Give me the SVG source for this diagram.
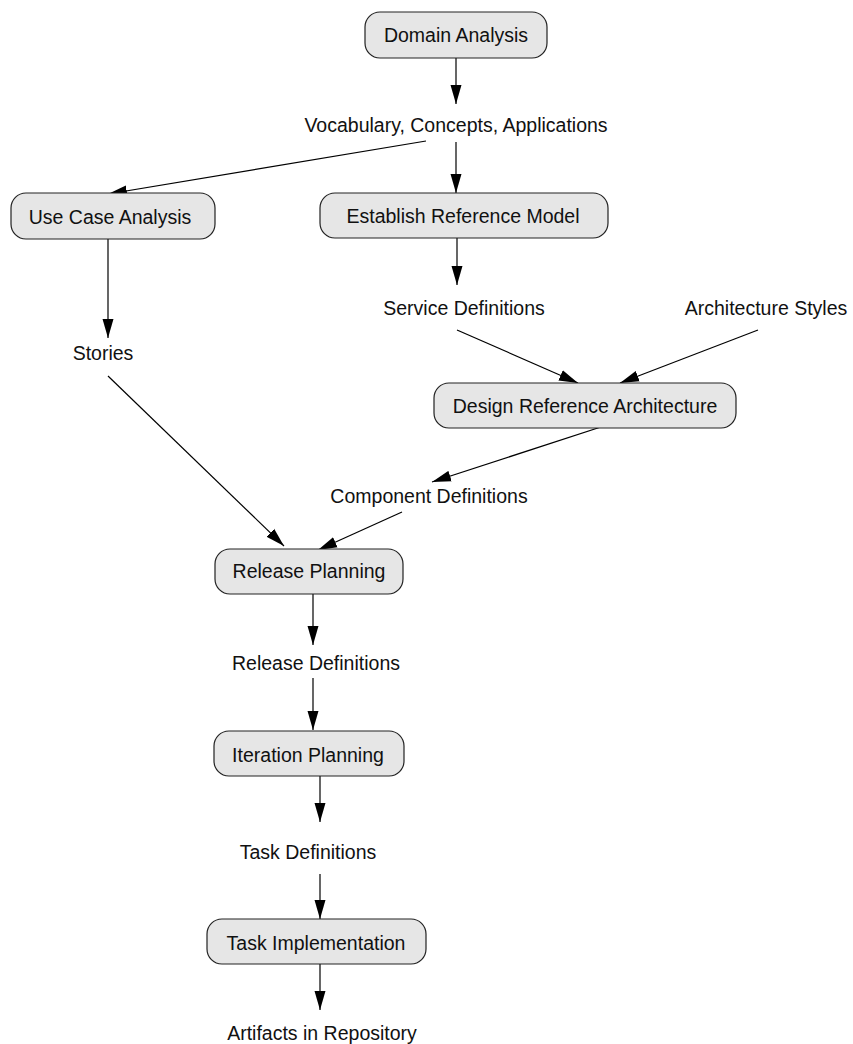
<svg xmlns="http://www.w3.org/2000/svg" width="853" height="1044" viewBox="0 0 853 1044">
  <style>
    .box { fill: #e6e6e6; stroke: #222; stroke-width: 1.2; }
    text { font-family: "Liberation Sans", Arial, sans-serif; font-size: 19.5px; fill: #111; text-anchor: middle; }
    .edge { stroke: #000; stroke-width: 1.2; fill: none; marker-end: url(#arrow); }
  </style>
  <defs>
    <marker id="arrow" markerUnits="userSpaceOnUse" markerWidth="20" markerHeight="12" refX="19" refY="6" orient="auto">
      <path d="M0,0.5 L19,6 L0,11.5 z" fill="#000"/>
    </marker>
  </defs>
  <rect width="853" height="1044" fill="#fff"/>

  <!-- connectors -->
  <g id="edges">
    <line class="edge" x1="456" y1="58" x2="456" y2="104"/>
    <line class="edge" x1="426" y1="141" x2="108" y2="194"/>
    <line class="edge" x1="456" y1="142" x2="456" y2="193"/>
    <line class="edge" x1="108" y1="239" x2="108" y2="338"/>
    <line class="edge" x1="457" y1="238" x2="457" y2="285"/>
    <line class="edge" x1="457" y1="330" x2="578" y2="383"/>
    <line class="edge" x1="758" y1="330" x2="620" y2="383"/>
    <line class="edge" x1="607" y1="425" x2="432" y2="482"/>
    <line class="edge" x1="108" y1="376" x2="284" y2="546"/>
    <line class="edge" x1="402" y1="512" x2="318" y2="550"/>
    <line class="edge" x1="313" y1="594" x2="313" y2="645"/>
    <line class="edge" x1="313" y1="678" x2="313" y2="730"/>
    <line class="edge" x1="320" y1="776" x2="320" y2="822"/>
    <line class="edge" x1="320" y1="874" x2="320" y2="919"/>
    <line class="edge" x1="320" y1="964" x2="320" y2="1010"/>
  </g>

  <!-- activity nodes -->
  <g id="domain-analysis">
    <rect class="box" x="365" y="12" width="182" height="46" rx="15"/>
    <text x="456" y="42">Domain Analysis</text>
  </g>
  <g id="use-case-analysis">
    <rect class="box" x="11" y="193" width="204" height="46" rx="15"/>
    <text x="110" y="224">Use Case Analysis</text>
  </g>
  <g id="establish-reference-model">
    <rect class="box" x="320" y="193" width="288" height="45" rx="15"/>
    <text x="463" y="223">Establish Reference Model</text>
  </g>
  <g id="design-reference-architecture">
    <rect class="box" x="434" y="383" width="302" height="45" rx="15"/>
    <text x="585" y="413">Design Reference Architecture</text>
  </g>
  <g id="release-planning">
    <rect class="box" x="215" y="549" width="188" height="45" rx="15"/>
    <text x="309" y="578">Release Planning</text>
  </g>
  <g id="iteration-planning">
    <rect class="box" x="214" y="731" width="190" height="45" rx="15"/>
    <text x="308" y="762">Iteration Planning</text>
  </g>
  <g id="task-implementation">
    <rect class="box" x="207" y="919" width="219" height="45" rx="15"/>
    <text x="316" y="950">Task Implementation</text>
  </g>

  <!-- artifact nodes -->
  <g id="vocabulary"><text x="456" y="132">Vocabulary, Concepts, Applications</text></g>
  <g id="stories"><text x="103" y="360">Stories</text></g>
  <g id="service-definitions"><text x="464" y="315">Service Definitions</text></g>
  <g id="architecture-styles"><text x="766" y="315">Architecture Styles</text></g>
  <g id="component-definitions"><text x="429" y="503">Component Definitions</text></g>
  <g id="release-definitions"><text x="316" y="670">Release Definitions</text></g>
  <g id="task-definitions"><text x="308" y="859">Task Definitions</text></g>
  <g id="artifacts"><text x="322" y="1040">Artifacts in Repository</text></g>
</svg>
